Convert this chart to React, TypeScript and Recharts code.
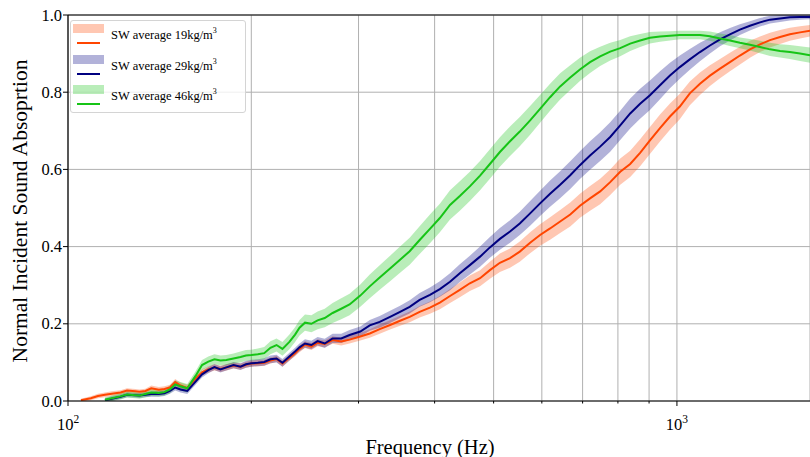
import React from 'react';
import {
  ComposedChart,
  Line,
  Area,
  XAxis,
  YAxis,
  CartesianGrid,
  ReferenceLine
} from 'recharts';

const FONT = "'Liberation Serif', 'DejaVu Serif', serif";

// frequency points (Hz)
const freqs = [
  105, 109, 112, 115, 118, 122, 125, 129, 131, 134, 137, 141,
  144, 147, 150, 153, 157, 162, 166, 170, 174, 178,
  182, 187, 192, 196, 200, 205, 210, 215, 220, 225,
  231, 236, 240, 245, 251, 257, 264, 272, 281, 290,
  302, 313, 325, 338, 351, 364, 378, 393, 408, 424,
  440, 457, 475, 493, 512, 532, 552, 574, 596, 619,
  643, 668, 693, 720, 748, 777, 807, 838, 870, 903,
  938, 974, 1011, 1050, 1091, 1133, 1177, 1222, 1269, 1318,
  1369, 1422, 1477, 1533, 1593, 1654
];

// SW average 19kg/m3
const sw19 = [
  0.002, 0.007, 0.013, 0.016, 0.019, 0.022, 0.027, 0.025, 0.024, 0.026, 0.033, 0.029,
  0.031, 0.035, 0.049, 0.040, 0.034, 0.058, 0.074, 0.082, 0.087, 0.083,
  0.087, 0.092, 0.089, 0.094, 0.097, 0.098, 0.099, 0.105, 0.109, 0.097,
  0.112, 0.124, 0.135, 0.146, 0.141, 0.151, 0.148, 0.158, 0.154, 0.159,
  0.167, 0.175, 0.186, 0.197, 0.208, 0.218, 0.231, 0.242, 0.255, 0.272,
  0.288, 0.305, 0.318, 0.339, 0.358, 0.370, 0.387, 0.410, 0.430, 0.447,
  0.465, 0.483, 0.506, 0.525, 0.543, 0.567, 0.594, 0.614, 0.643, 0.675,
  0.707, 0.737, 0.763, 0.797, 0.822, 0.843, 0.861, 0.878, 0.895, 0.911,
  0.924, 0.935, 0.943, 0.950, 0.955, 0.959
];
const sw19Std = [
  0.004, 0.005, 0.006, 0.006, 0.006, 0.006, 0.006, 0.006, 0.006, 0.006, 0.007, 0.007,
  0.007, 0.007, 0.008, 0.008, 0.008, 0.008, 0.008, 0.008, 0.008, 0.008,
  0.008, 0.008, 0.008, 0.008, 0.008, 0.008, 0.008, 0.008, 0.008, 0.008,
  0.008, 0.008, 0.009, 0.009, 0.009, 0.009, 0.009, 0.010, 0.010, 0.010,
  0.010, 0.011, 0.012, 0.012, 0.013, 0.014, 0.015, 0.016, 0.017, 0.018,
  0.019, 0.020, 0.021, 0.022, 0.024, 0.025, 0.026, 0.027, 0.028, 0.029,
  0.030, 0.031, 0.031, 0.032, 0.033, 0.033, 0.034, 0.034, 0.035, 0.035,
  0.035, 0.034, 0.033, 0.031, 0.029, 0.027, 0.025, 0.024, 0.023, 0.022,
  0.020, 0.019, 0.018, 0.017, 0.016, 0.015
];

// SW average 29kg/m3
const sw29 = [
  null, null, null, 0.002, 0.006, 0.011, 0.016, 0.015, 0.014, 0.016, 0.018, 0.018,
  0.020, 0.026, 0.035, 0.030, 0.026, 0.050, 0.069, 0.080, 0.088, 0.082,
  0.087, 0.093, 0.089, 0.095, 0.098, 0.099, 0.101, 0.108, 0.110, 0.099,
  0.115, 0.128, 0.139, 0.149, 0.145, 0.155, 0.149, 0.162, 0.162, 0.171,
  0.180, 0.196, 0.205, 0.218, 0.231, 0.244, 0.262, 0.275, 0.290, 0.309,
  0.331, 0.352, 0.374, 0.398, 0.420, 0.439, 0.460, 0.486, 0.512, 0.537,
  0.560, 0.585, 0.611, 0.636, 0.659, 0.684, 0.714, 0.745, 0.770, 0.792,
  0.818, 0.843, 0.865, 0.885, 0.904, 0.921, 0.937, 0.950, 0.962, 0.972,
  0.981, 0.988, 0.991, 0.994, 0.995, 0.995
];
const sw29Std = [
  null, null, null, 0.005, 0.006, 0.006, 0.006, 0.006, 0.006, 0.006, 0.007, 0.007,
  0.007, 0.007, 0.008, 0.008, 0.008, 0.008, 0.008, 0.008, 0.008, 0.008,
  0.008, 0.008, 0.009, 0.009, 0.009, 0.009, 0.010, 0.010, 0.010, 0.010,
  0.010, 0.010, 0.010, 0.011, 0.011, 0.011, 0.012, 0.012, 0.012, 0.013,
  0.013, 0.014, 0.015, 0.016, 0.016, 0.017, 0.018, 0.019, 0.020, 0.022,
  0.023, 0.024, 0.026, 0.027, 0.028, 0.029, 0.030, 0.032, 0.033, 0.034,
  0.035, 0.036, 0.036, 0.037, 0.037, 0.038, 0.038, 0.039, 0.039, 0.038,
  0.036, 0.033, 0.030, 0.027, 0.024, 0.021, 0.018, 0.016, 0.014, 0.012,
  0.011, 0.010, 0.009, 0.008, 0.007, 0.006
];

// SW average 46kg/m3
const sw46 = [
  null, null, null, 0.003, 0.007, 0.012, 0.017, 0.015, 0.014, 0.018, 0.022, 0.021,
  0.023, 0.030, 0.043, 0.038, 0.033, 0.065, 0.093, 0.102, 0.108, 0.105,
  0.106, 0.110, 0.114, 0.118, 0.119, 0.121, 0.124, 0.138, 0.145, 0.135,
  0.153, 0.172, 0.190, 0.203, 0.200, 0.209, 0.215, 0.228, 0.239, 0.250,
  0.273, 0.297, 0.320, 0.343, 0.366, 0.388, 0.417, 0.446, 0.474, 0.508,
  0.531, 0.556, 0.584, 0.614, 0.645, 0.673, 0.698, 0.727, 0.757, 0.787,
  0.815, 0.838, 0.859, 0.878, 0.893, 0.905, 0.914, 0.926, 0.934, 0.941,
  0.944, 0.946, 0.948, 0.948, 0.948, 0.945, 0.939, 0.934, 0.928, 0.923,
  0.917, 0.911, 0.907, 0.904, 0.900, 0.896
];
const sw46Std = [
  null, null, null, 0.006, 0.007, 0.008, 0.008, 0.008, 0.008, 0.008, 0.009, 0.009,
  0.009, 0.010, 0.010, 0.011, 0.011, 0.012, 0.013, 0.013, 0.013, 0.013,
  0.013, 0.013, 0.014, 0.014, 0.014, 0.015, 0.016, 0.017, 0.017, 0.018,
  0.019, 0.019, 0.020, 0.021, 0.022, 0.023, 0.024, 0.026, 0.027, 0.028,
  0.029, 0.031, 0.032, 0.033, 0.034, 0.035, 0.036, 0.037, 0.037, 0.038,
  0.038, 0.038, 0.038, 0.038, 0.038, 0.038, 0.038, 0.037, 0.036, 0.035,
  0.034, 0.032, 0.030, 0.028, 0.025, 0.023, 0.021, 0.019, 0.017, 0.015,
  0.013, 0.012, 0.011, 0.011, 0.011, 0.012, 0.013, 0.014, 0.014, 0.015,
  0.016, 0.017, 0.017, 0.018, 0.019, 0.020
];

const xTicks = [100, 200, 300, 400, 500, 600, 700, 800, 900, 1000];
const yTicks = [0, 0.2, 0.4, 0.6, 0.8, 1.0];

const SERIES = [
  { key: 'sw19', label: 'SW average 19kg/m', color: '#FF4500', mean: sw19, std: sw19Std },
  { key: 'sw29', label: 'SW average 29kg/m', color: '#000080', mean: sw29, std: sw29Std },
  { key: 'sw46', label: 'SW average 46kg/m', color: '#16C416', mean: sw46, std: sw46Std }
];

const data = freqs.map((f, i) => {
  const row: any = { f };
  SERIES.forEach(s => {
    const m = s.mean[i];
    const sd = s.std[i];
    row[s.key] = m;
    row[s.key + 'Band'] = m == null || sd == null ? null : [m - sd, m + sd];
  });
  return row;
});

const XTick = ({ x, y, payload }: any) => {
  const v = payload.value;
  const major = v === 100 || v === 1000;
  return (
    <g>
      <line x1={x} x2={x} y1={y} y2={y + (major ? 5 : 2.5)} stroke="#000" strokeWidth={1} />
      {major && (
        <text x={x} y={y + 29} textAnchor="middle" fontFamily={FONT} fontSize={16.5} fill="#000">
          <tspan>10</tspan>
          <tspan dy={-7} fontSize={11.5}>{v === 100 ? '2' : '3'}</tspan>
        </text>
      )}
    </g>
  );
};

const YTick = ({ x, y, payload }: any) => (
  <g>
    <line x1={x - 5} x2={x} y1={y} y2={y} stroke="#000" strokeWidth={1} />
    <text x={x - 6} y={y} dy={5.5} textAnchor="end" fontFamily={FONT} fontSize={16.5} fill="#000">
      {payload.value.toFixed(1)}
    </text>
  </g>
);

const LegendBox = () => (
  <div
    style={{
      position: 'absolute',
      left: 70,
      top: 20,
      width: 176,
      height: 93,
      boxSizing: 'border-box',
      border: '1px solid #d4d4d4',
      borderRadius: 3,
      background: 'rgba(255,255,255,0.8)',
      fontFamily: FONT,
      fontSize: 12.5,
      color: '#000'
    }}
  >
    {SERIES.map((s, i) => (
      <React.Fragment key={s.key}>
        <div style={{ position: 'absolute', left: 2, top: 3 + i * 30.5, width: 31, height: 9, background: s.color, opacity: 0.3 }} />
        <div style={{ position: 'absolute', left: 6, top: 21 + i * 30.5, width: 23, height: 2, background: s.color }} />
        <div style={{ position: 'absolute', left: 40, top: 7 + i * 30.5, whiteSpace: 'nowrap', lineHeight: '14px' }}>
          {s.label}<sup style={{ fontSize: 8, verticalAlign: 'top', lineHeight: '8px', position: 'relative', top: -1 }}>3</sup>
        </div>
      </React.Fragment>
    ))}
  </div>
);

export default function App() {
  return (
    <div style={{ position: 'absolute', left: 0, top: 0, width: 810, height: 457, background: '#fff', overflow: 'hidden' }}>
      <ComposedChart
        width={810}
        height={457}
        data={data}
        margin={{ top: 15, right: 0, bottom: 0, left: 0 }}
        style={{ fontFamily: FONT }}
      >
        <CartesianGrid stroke="#b0b0b0" strokeWidth={1} />
        <XAxis
          dataKey="f"
          type="number"
          scale="log"
          domain={[100, 1654]}
          allowDataOverflow
          ticks={xTicks}
          interval={0}
          tick={XTick}
          tickLine={false}
          tickSize={0}
          tickMargin={0}
          height={56}
          axisLine={{ stroke: '#000', strokeWidth: 1.2 }}
          label={() => (
            <text x={430} y={454} textAnchor="middle" fontFamily={FONT} fontSize={20.5} fill="#000">
              Frequency (Hz)
            </text>
          )}
        />
        <YAxis
          type="number"
          domain={[0, 1]}
          allowDataOverflow
          ticks={yTicks}
          interval={0}
          tick={YTick}
          tickLine={false}
          tickSize={0}
          tickMargin={0}
          width={68}
          axisLine={{ stroke: '#000', strokeWidth: 1.2 }}
          label={() => (
            <text
              x={27}
              y={211}
              transform="rotate(-90, 27, 211)"
              textAnchor="middle"
              fontFamily={FONT}
              fontSize={21.5}
              fill="#000"
            >
              Normal Incident Sound Absoprtion
            </text>
          )}
        />
        {SERIES.map(s => [
          <Area
            key={s.key + 'Band'}
            dataKey={s.key + 'Band'}
            type="linear"
            stroke="none"
            fill={s.color}
            fillOpacity={0.3}
            isAnimationActive={false}
            activeDot={false}
          />,
          <Line
            key={s.key}
            dataKey={s.key}
            type="linear"
            stroke={s.color}
            strokeWidth={2}
            dot={false}
            activeDot={false}
            isAnimationActive={false}
          />
        ])}
        <ReferenceLine y={1} stroke="#000" strokeWidth={1.2} />
      </ComposedChart>
      <LegendBox />
    </div>
  );
}
